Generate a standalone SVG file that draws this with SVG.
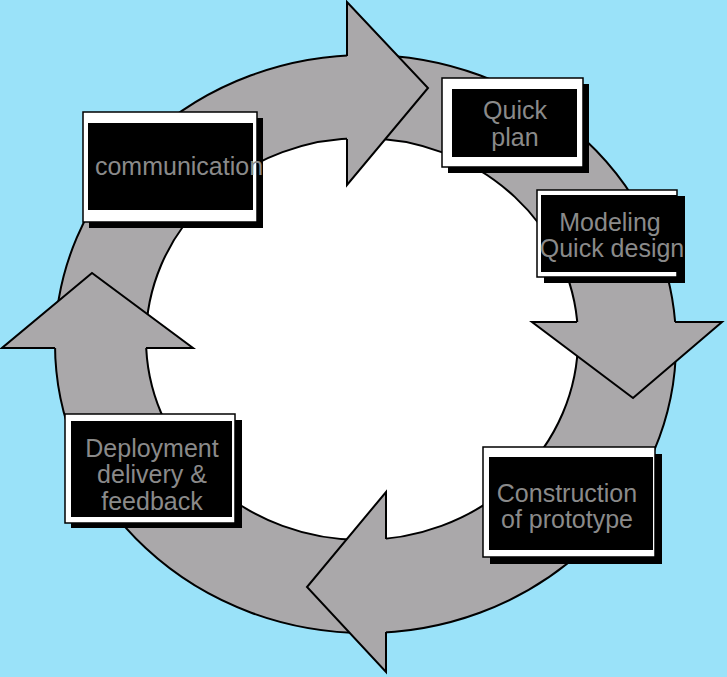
<svg xmlns="http://www.w3.org/2000/svg" width="727" height="677" viewBox="0 0 727 677">
  <style>
    .ring { fill: #aaa8aa; stroke: #000; stroke-width: 2; }
    .hole { fill: #fff; stroke: #000; stroke-width: 2; }
    .head { fill: #aaa8aa; stroke: none; }
    .edge { fill: none; stroke: #000; stroke-width: 2; stroke-linejoin: miter; }
    .shadow { fill: #000; }
    .frame { fill: #fff; stroke: #000; stroke-width: 1.5; }
    .inner { fill: #000; }
    .label { font-family: "Liberation Sans", Arial, sans-serif; font-size: 25px; fill: #8a8a8a; text-anchor: middle; }
  </style>
  <rect x="0" y="0" width="727" height="677" fill="#9ae2f9"/>
  <g id="connectors">
    <ellipse class="ring" cx="365.5" cy="344" rx="310.5" ry="289"/>
    <ellipse class="hole" cx="362" cy="339" rx="216" ry="201"/>
    <!-- top arrow, pointing right -->
    <polygon class="head" points="347,2 428,88 347,185"/>
    <path class="edge" d="M347,56 V2 L428,88 L347,185 V139"/>
    <!-- right arrow, pointing down -->
    <polygon class="head" points="532,322 722,322 633,398"/>
    <path class="edge" d="M577,322 H532 L633,398 L722,322 H675"/>
    <!-- bottom arrow, pointing left -->
    <polygon class="head" points="386,492 307,587 386,672"/>
    <path class="edge" d="M386,539 V492 L307,587 L386,672 V632"/>
    <!-- left arrow, pointing up -->
    <polygon class="head" points="2,348 92,273 193,348"/>
    <path class="edge" d="M55,348 H2 L92,273 L193,348 H146"/>
  </g>
  <g id="communication">
    <rect class="shadow" x="89" y="118" width="174" height="110"/>
    <rect class="frame" x="83" y="112" width="174" height="110"/>
    <rect class="inner" x="88" y="123" width="165" height="87"/>
    <text class="label" x="179" y="175">communication</text>
  </g>
  <g id="quick-plan">
    <rect class="shadow" x="448" y="84" width="141" height="89"/>
    <rect class="frame" x="442" y="78" width="141" height="89"/>
    <rect class="inner" x="452" y="89" width="125" height="68"/>
    <text class="label" x="515" y="119">Quick</text>
    <text class="label" x="515" y="146">plan</text>
  </g>
  <g id="modeling">
    <rect class="shadow" x="544" y="196" width="141" height="87"/>
    <rect class="frame" x="537" y="190" width="140" height="87"/>
    <rect class="inner" x="541" y="195" width="136" height="77"/>
    <text class="label" x="610" y="231">Modeling</text>
    <text class="label" x="612" y="257">Quick design</text>
  </g>
  <g id="construction">
    <rect class="shadow" x="490" y="454" width="172" height="110"/>
    <rect class="frame" x="483" y="447" width="172" height="110"/>
    <rect class="inner" x="489" y="457" width="164" height="93"/>
    <text class="label" x="567" y="502">Construction</text>
    <text class="label" x="567" y="528">of prototype</text>
  </g>
  <g id="deployment">
    <rect class="shadow" x="71" y="420" width="171" height="108"/>
    <rect class="frame" x="65" y="414" width="170" height="109"/>
    <rect class="inner" x="71" y="421" width="161" height="96"/>
    <text class="label" x="152" y="457">Deployment</text>
    <text class="label" x="152" y="483">delivery &amp;</text>
    <text class="label" x="152" y="510">feedback</text>
  </g>
</svg>
